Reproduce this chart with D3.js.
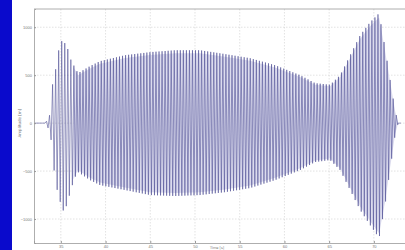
<!DOCTYPE html>
<meta charset="utf-8">
<script src="https://d3js.org/d3.v7.min.js"></script>
<style>
  body { margin: 0; background: #fff; font-family: 'DejaVu Sans', sans-serif; }
  svg { display: block; }
</style>
<body>
<svg width="405" height="250"></svg>
</body>
<script>
// ticks
var xTicks = [35, 40, 45, 50, 55, 60, 65, 70];
var yTicks = [-1000, -500, 0, 500, 1000];

// envelope (time in s, amplitude in m)
var envTime  = [33.23, 33.57, 33.85, 34.09, 34.35, 34.61, 34.87, 35.13, 35.39, 35.66, 35.91, 36.14, 36.40, 36.62, 36.92,
                38.26, 39.38, 42.18, 44.98, 47.77, 50.57, 53.36, 56.16, 58.96, 61.75, 63.43, 65.11, 66.23, 67.35,
                68.47, 69.58, 70.59, 71.26, 71.82, 72.38, 72.72];
var envUpper = [0, 40, 110, 417, 500, 729, 780, 865, 840, 812, 730, 656, 610, 573, 521,
                594, 646, 708, 740, 760, 760, 720, 677, 604, 500, 417, 400, 500, 708,
                917, 1052, 1146, 780, 450, 130, 0];
var envLower = [0, -50, -150, -250, -646, -700, -802, -880, -937, -850, -771, -690, -615, -560, -510,
                -594, -646, -698, -750, -760, -750, -720, -677, -594, -490, -406, -385, -490, -698,
                -906, -1063, -1198, -850, -480, -120, 0];
var startTime = 32.1;    // flat part before the motion
var period = 0.34;       // one oscillation, s

var svg = d3.select("svg"),
    margin = {top: 9, right: -10, bottom: 7, left: 34},
    width = 405 - margin.left - margin.right,
    height = 250 - margin.top - margin.bottom;

// blue strip on the left
svg.append("rect").attr("x", 0).attr("y", 0).attr("width", 12).attr("height", 250).attr("fill", "#0a0acc");

var g = svg.append("g").attr("transform", "translate(" + margin.left + "," + margin.top + ")");

var x = d3.scaleLinear().domain([32, 74.6]).range([0, width]);
var y = d3.scaleLinear().domain([-1250, 1190]).range([height, 0]);

// grid
g.append("g").selectAll("line").data(xTicks).enter().append("line")
    .attr("x1", function(d) { return x(d); }).attr("x2", function(d) { return x(d); })
    .attr("y1", 0).attr("y2", height)
    .attr("stroke", "#cfcfcf").attr("stroke-width", 0.6).attr("stroke-dasharray", "1.5,1.5");
g.append("g").selectAll("line").data(yTicks).enter().append("line")
    .attr("x1", 0).attr("x2", width)
    .attr("y1", function(d) { return y(d); }).attr("y2", function(d) { return y(d); })
    .attr("stroke", "#cfcfcf").attr("stroke-width", 0.6).attr("stroke-dasharray", "1.5,1.5");

// signal: flat start, then zig-zag between envelope peaks
var upper = d3.scaleLinear().domain(envTime).range(envUpper);
var lower = d3.scaleLinear().domain(envTime).range(envLower);
var pts = [[startTime, 0], [envTime[0], 0]];
var t0 = envTime[0], tEnd = envTime[envTime.length - 1];
for (var k = 1; t0 + k * period / 2 < tEnd; k++) {
  var t = t0 + k * period / 2;
  pts.push([t, k % 2 ? upper(t) : lower(t)]);
}
pts.push([tEnd, 0], [tEnd + 0.3, 0]);

// faint wash between the envelopes (the dense lines blur into it)
g.append("path")
    .datum(envTime.map(function(d, i) { return i; }).filter(function(i) { return envTime[i] > 36.3; }))
    .attr("fill", "#dcdcee")
    .attr("d", d3.area()
      .x(function(i) { return x(envTime[i]); })
      .y0(function(i) { return y(envLower[i] * 0.96); })
      .y1(function(i) { return y(envUpper[i] * 0.96); }));

g.append("path")
    .datum(pts)
    .attr("fill", "none")
    .attr("stroke", "#45458f")
    .attr("stroke-width", 0.55)
    .attr("d", d3.line().x(function(d) { return x(d[0]); }).y(function(d) { return y(d[1]); }));

// axes
var xAxis = g.append("g").attr("transform", "translate(0," + height + ")")
    .call(d3.axisBottom(x).tickValues(xTicks).tickSize(-2).tickPadding(2));
var yAxis = g.append("g")
    .call(d3.axisLeft(y).tickValues(yTicks).tickFormat(d3.format("d")).tickSize(-2).tickPadding(2));
[xAxis, yAxis].forEach(function(a) {
  a.select(".domain").attr("stroke", "#999").attr("stroke-width", 0.8);
  a.selectAll(".tick line").attr("stroke", "#999");
  a.selectAll("text").attr("font-size", 4).attr("fill", "#777");
});
g.append("line").attr("x1", 0).attr("x2", width).attr("y1", 0).attr("y2", 0)
    .attr("stroke", "#999").attr("stroke-width", 0.8);

// axis labels
svg.append("text")
    .attr("transform", "translate(21," + (margin.top + y(0)) + ") rotate(-90)")
    .attr("text-anchor", "middle").attr("font-size", 4).attr("fill", "#777")
    .text("Amplitude [m]");
svg.append("text")
    .attr("x", 217).attr("y", 249)
    .attr("text-anchor", "middle").attr("font-size", 3.5).attr("fill", "#777")
    .text("Time [s]");
</script>
